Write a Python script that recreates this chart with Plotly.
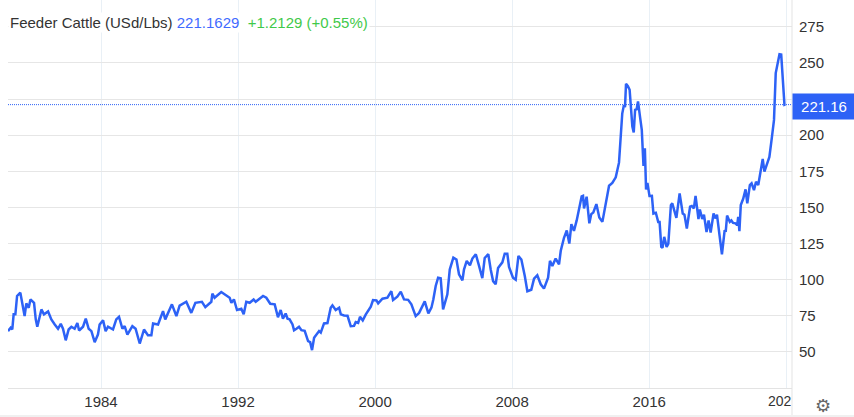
import plotly.graph_objects as go

SERIES_NAME = "Feeder Cattle"
LAST_PRICE = 221.1629
CHANGE = 1.2129
CHANGE_PCT = 0.55

years_1 = [1978.57,1978.73,1978.82,1978.90,1979.0,1979.10,1979.29,1979.45,1979.54,1979.64,1979.78,1979.88,
 1980.09,1980.19,1980.28,1980.52,1980.67,1980.91,1981.10,1981.30,1981.49,1981.65,1981.78,1981.94,1982.11,1982.27,
 1982.46,1982.62,1982.72,1982.95,1983.11,1983.28,1983.44,1983.63,1983.82,1983.92,1984.12,1984.27,1984.41,1984.70,
 1984.89,1985.05,1985.25,1985.38,1985.54,1985.83,1986.02,1986.26,1986.51,1986.74,1986.94,1987.04,1987.33,1987.62,
 1987.75,1988.14,1988.40,1988.59,1988.98,1989.27,1989.51,1989.89,1990.09,1990.44,1990.50,1990.63,1991.02,1991.51,
 1991.61,1991.76,1991.94,1992.19,1992.33,1992.48,1992.68,1992.91,1993.03,1993.46,1993.65,1993.88,1994.14,1994.33,
 1994.49,1994.62,1994.78,1994.89,1995.01]
prices_1 = [64.4,66.7,65.5,76,76,88.7,91,80.5,74.8,83.6,80.5,86.3,
 84,72.5,67.4,79.4,76,78,72.5,69,66,69.4,66,58,65.5,67.4,
 66,70,64.8,67.4,73,66,64.4,56.7,62,69,71.8,64.4,67.4,65.5,
 72.5,74.3,66,67.8,62,67.8,66,55.8,65.5,61.6,61.6,69.7,69,78.2,
 72.5,82.9,74.8,82,84.7,77,84,84.7,81,84.7,90.3,87.5,91.4,87.5,
 84,86.3,79,79.9,76,84.7,84,86.3,84.7,88.7,87.5,83.3,82.9,74,
 79,73,76.6,73,72.5]

years_2 = [1995.18,1995.27,1995.41,1995.56,1995.70,1995.89,1996.09,1996.21,1996.32,1996.44,1996.73,1996.83,1997.02,
 1997.22,1997.41,1997.51,1997.70,1997.90,1998.0,1998.19,1998.39,1998.58,1998.77,1998.87,1999.01,1999.12,1999.28,
 1999.46,1999.75,1999.88,2000.08,2000.18,2000.43,2000.72,2000.95,2001.05,2001.30,2001.50,2001.69,2001.93,2002.12,
 2002.37,2002.57,2002.90,2003.11,2003.29,2003.40,2003.54,2003.68,2003.83,2003.97,2004.22,2004.36,2004.57,2004.75,
 2004.90,2005.10,2005.19,2005.35,2005.54,2005.68,2005.88,2006.07,2006.26,2006.40,2006.61,2006.75,2006.89,2007.04,
 2007.18,2007.43,2007.57,2007.72,2007.82,2008.05,2008.21,2008.37,2008.54,2008.74,2008.89,2009.12,2009.28,2009.47,
 2009.67,2009.86,2010.10,2010.21,2010.35,2010.54,2010.74,2010.84,2011.03,2011.19,2011.34,2011.46,2011.61,2011.77]
prices_2 = [69,65,66,67.4,65,64.6,57.4,56.7,51.2,59.7,64.4,63.3,69.7,
 70,80.6,82.2,79,80.6,76,75.2,75,67.8,68,70.6,70,74.3,71.8,
 76,81.3,85.9,85.6,83.6,86.8,87.5,92,85.9,88.2,91.7,86.3,86,82.9,
 74.8,77,85,76.6,80.6,86.3,95.6,101.4,101,79.4,89.8,107,115.3,114,
 103.7,99.5,107,113,110,114.6,117.6,109.5,101,115,117.6,107,99,96.8,
 108,112,118,118,108.8,101.4,100,116.4,114,102.5,92,93,100.7,103,
 96.8,93.8,101.4,113,109.5,114.6,110.6,120,129,134,125,138.4,133.8,141]

years_3 = [2011.86,2012.06,2012.14,2012.20,2012.35,2012.51,2012.62,2012.74,2012.92,2013.09,2013.27,2013.46,2013.66,
 2013.85,2014.05,2014.24,2014.30,2014.43,2014.53,2014.59,2014.65,2014.76,2014.86,2015.02,2015.10,2015.18,2015.27,
 2015.35,2015.47,2015.57,2015.67,2015.75,2015.82,2015.90,2016.02,2016.16,2016.25,2016.39,2016.53,2016.61,2016.71,
 2016.78,2016.88,2017.02,2017.12,2017.27,2017.35,2017.47,2017.59,2017.78,2017.96,2018.06,2018.20,2018.39,2018.49,
 2018.61,2018.71,2018.88,2018.96,2019.10,2019.20,2019.35,2019.47,2019.59,2019.76,2019.86,2019.96,2020.12,2020.25,
 2020.41,2020.47,2020.55,2020.71,2020.80,2020.90,2021.04,2021.14,2021.20,2021.27,2021.35,2021.49,2021.63,2021.73,
 2021.88,2021.98,2022.12,2022.24,2022.37,2022.53,2022.63,2022.73,2022.86,2023.02,2023.16,2023.29,2023.39,2023.49,
 2023.61,2023.71,2023.90,2023.96]
prices_3 = [147,157.6,158,149.3,157.4,139,145.4,146.5,152.3,143,140,152,165,
 166.9,170.8,181,190.5,215,221,219.4,235.6,234,231.5,206,201.9,217.6,218,
 223.4,212.5,203.7,178.7,191,162.5,167,157.9,158,145.8,146.3,140,140,122.7,
 122,129.6,122.7,125,151.6,152.8,147,142.8,159.7,145.8,145,135.4,150.5,151,
 149.3,158,142,148.6,142,145,133,141,132.6,145.8,142.4,145,129.6,117.6,
 134.3,133,144.4,140,141,139.3,139,137.7,143.5,133.6,151.6,156,162.5,152.8,
 165.5,166.7,162,167.8,165.5,178.2,183.6,174.8,179.9,185,198,210.6,243,248.8,
 256,255.8,221,221.16]

year_ticks = [1984, 1992, 2000, 2008, 2016, 2024]
year_labels = ["1984", "1992", "2000", "2008", "2016", ""]
price_ticks = [50, 75, 100, 125, 150, 175, 200, 225, 250, 275]

years = years_1 + years_2 + years_3
prices = prices_1 + prices_2 + prices_3

BLUE = "#2d62f6"
FONT = "Liberation Sans"

fig = go.Figure(go.Scatter(x=years, y=prices, mode="lines", name=SERIES_NAME,
                           line=dict(color=BLUE, width=2.5), hoverinfo="skip"))

fig.add_shape(type="line", xref="paper", yref="y", x0=0, x1=1, y0=prices[-1], y1=prices[-1],
              line=dict(color=BLUE, width=1, dash="1px,1px"))
fig.add_shape(type="line", xref="paper", yref="paper", x0=1, x1=1, y0=-0.075, y1=1,
              line=dict(color="#e3e3e3", width=1))
fig.add_shape(type="rect", xref="paper", yref="paper", x0=-0.02, x1=1.08, y0=-0.0775, y1=-0.0695,
              fillcolor="#f0f0f0", line=dict(width=0))

header = (f'<span style="color:#333333">{SERIES_NAME} (USd/Lbs)</span> '
          f'<span style="color:#3f6bff">{LAST_PRICE:.4f}</span>  '
          f'<span style="color:#3fc94a">+{CHANGE:.4f} (+{CHANGE_PCT:.2f}%)</span>')
fig.add_annotation(xref="paper", yref="paper", x=0, y=1.0 - 12/388, xanchor="left", yanchor="top",
                   text=header, showarrow=False, bgcolor="white", borderpad=1, align="left",
                   font=dict(family=FONT, size=15))
fig.add_annotation(xref="paper", yref="y", x=1, y=prices[-1], xanchor="left", yanchor="middle",
                   text=f"{prices[-1]:.2f}", showarrow=False, bgcolor=BLUE, borderpad=4, yshift=-2,
                   width=54, height=17, align="center", font=dict(family=FONT, size=15, color="white"))
fig.add_annotation(xref="paper", yref="paper", x=1, y=-0.01, xanchor="right", yanchor="top",
                   text="202", showarrow=False, xshift=1, borderpad=0,
                   font=dict(family=FONT, size=14, color="#333333"))
fig.add_annotation(xref="paper", yref="paper", x=1.039, y=-0.012, xanchor="center", yanchor="top",
                   text="⚙", showarrow=False, font=dict(family="DejaVu Sans", size=18, color="#666666"))

fig.update_layout(
    width=854, height=417, autosize=False, showlegend=False,
    paper_bgcolor="white", plot_bgcolor="white",
    margin=dict(l=8, r=62, t=0, b=29),
    font=dict(family=FONT, size=15, color="#333333"),
    xaxis=dict(range=[1978.57, 2024.34], tickmode="array", tickvals=year_ticks, ticktext=year_labels,
               showgrid=True, gridcolor="#e9f0f6", gridwidth=1, zeroline=False,
               showline=True, linecolor="#e3e3e3", linewidth=1, ticks="", fixedrange=True),
    yaxis=dict(range=[25, 293.6], side="right", tickmode="array", tickvals=price_ticks,
               showgrid=True, gridcolor="#e6e6e6", gridwidth=1, zeroline=False,
               showline=False, ticks="outside", ticklen=3, tickcolor="white", fixedrange=True),
)
fig.write_html("out.html", config=dict(displayModeBar=False),
               post_script="document.body.style.margin='0';document.documentElement.style.overflow='hidden';")
